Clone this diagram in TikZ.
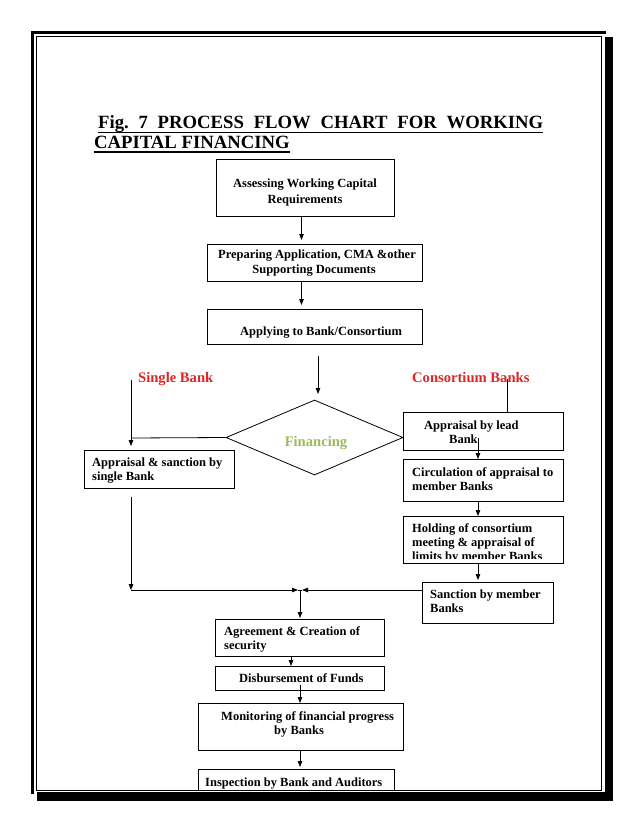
\documentclass[tikz,border=0pt]{standalone}
\usepackage{fontspec}
\setmainfont{Liberation Serif}
\usetikzlibrary{arrows.meta,shapes.geometric}
\definecolor{redlab}{RGB}{220,38,38}
\definecolor{fingreen}{RGB}{155,187,89}
\frenchspacing
\begin{document}
\begin{tikzpicture}[x=1pt,y=-1pt,
  box/.style={draw, line width=0.8pt, inner sep=0pt, anchor=north west},
  txt/.style={inner sep=0pt, anchor=base west, font=\fontsize{12.5}{14}\selectfont\bfseries},
  ttl/.style={inner sep=0pt, anchor=base west, font=\fontsize{18.7}{22}\selectfont\bfseries},
  lab/.style={inner sep=0pt, anchor=base west, text=redlab, font=\fontsize{14.6}{17}\selectfont\bfseries},
  arr/.style={line width=0.8pt, -{Triangle[length=6pt,width=4.5pt]}},
  conn/.style={line width=0.8pt}]
\useasboundingbox (0,0) rectangle (638,826);
% page frame
\fill (31,31) rectangle (606,34);
\fill (31,31) rectangle (34,794);
\draw[line width=0.8pt] (36.4,36.4) rectangle (601,790);
\fill (605,37) rectangle (613,801);
\fill (37,792) rectangle (613,801);
% title
\node[ttl] (t1) at (98,129) {\makebox[445pt][s]{Fig.\ 7 PROCESS FLOW CHART FOR WORKING}};
\node[ttl] (t2) at (94,148.5) {CAPITAL FINANCING};
\draw[line width=1.2pt] ([yshift=-3.5pt]t1.base west) -- ([yshift=-3.5pt]t1.base east);
\draw[line width=1.2pt] ([yshift=-3.5pt]t2.base west) -- ([yshift=-3.5pt]t2.base east);
% boxes
\node[box, minimum width=178pt, minimum height=57pt] (b1) at (216,159) {};
\node[box, minimum width=215pt, minimum height=37pt] (b2) at (207,244) {};
\node[box, minimum width=215pt, minimum height=35pt] (b3) at (207,309) {};
\node[draw, diamond, line width=0.8pt, inner sep=0pt, minimum width=177pt, minimum height=75pt] (fin) at (314.5,437.5) {};
\node[box, minimum width=150pt, minimum height=38pt] (bS) at (84,450) {};
\node[box, minimum width=160pt, minimum height=38pt] (bL) at (403,412) {};
\node[box, minimum width=160pt, minimum height=42pt] (bC) at (403,459) {};
\node[box, minimum width=160pt, minimum height=47pt] (bH) at (403,516) {};
\node[box, minimum width=131pt, minimum height=41pt] (bM) at (422,582) {};
\node[box, minimum width=169pt, minimum height=37pt] (bA) at (215,619) {};
\node[box, minimum width=169pt, minimum height=24pt] (bD) at (215,666) {};
\node[box, minimum width=205pt, minimum height=47pt] (bMo) at (198,703) {};
\node[box, minimum width=196pt, minimum height=21pt] (bI) at (198,769) {};
% texts
\node[txt, anchor=base] (x1a) at (305,188) {Assessing Working Capital};
\node[txt, anchor=base] (x1b) at (305,204) {Requirements};
\node[txt, anchor=base] (x2a) at (317,258) {Preparing Application, CMA \&other};
\node[txt, anchor=base] (x2b) at (314,273) {Supporting Documents};
\node[txt] (x3) at (240,335.5) {Applying to Bank/Consortium};
\node[lab] (ls) at (138,382) {Single Bank};
\node[lab] (lc) at (412,382) {Consortium Banks};
\node[lab, anchor=base, text=fingreen] (xf) at (316,446) {Financing};
\node[txt] (xSa) at (92,466) {Appraisal \& sanction by};
\node[txt] (xSb) at (92,480) {single Bank};
\node[txt] (xLa) at (424,429) {Appraisal by lead};
\node[txt] (xLb) at (449,443) {Bank};
\node[txt] (xCa) at (412,476) {Circulation of appraisal to};
\node[txt] (xCb) at (412,490) {member Banks};
\node[txt] (xHa) at (412,532) {Holding of consortium};
\node[txt] (xHb) at (412,546) {meeting \& appraisal of};
\begin{scope}
\clip (404,516) rectangle (562,558);
\node[txt] (xHc) at (412,560) {limits by member Banks};
\end{scope}
\node[txt] (xMa) at (430,598.5) {Sanction by member};
\node[txt] (xMb) at (430,612) {Banks};
\node[txt] (xAa) at (224,635) {Agreement \& Creation of};
\node[txt] (xAb) at (224,649) {security};
\node[txt] (xD) at (239,682.5) {Disbursement of Funds};
\node[txt] (xMoa) at (221,720) {Monitoring of financial progress};
\node[txt] (xMob) at (274,734) {by Banks};
\node[txt] (xI) at (205,786) {Inspection by Bank and Auditors};
% connectors
\coordinate (ax1) at (301.5,0);
\draw[arr, shorten >=4pt] (b1.south -| ax1) -- (b2.north -| ax1);
\draw[arr, shorten >=4pt] (b2.south -| ax1) -- (b3.north -| ax1);
\coordinate (a3s) at (318,356);
\coordinate (a3e) at (318,394);
\draw[arr] (a3s) -- (a3e);
\coordinate (sTop) at (131,380);
\coordinate (sCorner) at (131,438);
\draw[conn] (fin.west) -- (sCorner);
\draw[arr, shorten >=4pt] (sTop) -- (bS.north -| sTop);
\coordinate (cTop) at (507,379);
\draw[conn] (cTop) -- (bL.north -| cTop);
\coordinate (lcx) at (478,438);
\draw[arr] (lcx) -- (bC.north -| lcx);
\draw[arr] (bC.south -| lcx) -- (bH.north -| lcx);
\draw[arr, shorten >=2pt] (bH.south -| lcx) -- (bM.north -| lcx);
\coordinate (sBot) at (131,497);
\coordinate (jL) at (131,590);
\coordinate (jM) at (300,590);
\coordinate (jLa) at (298,590);
\coordinate (jRa) at (302,590);
\draw[arr] (sBot) -- (jL);
\draw[arr] (jL) -- (jLa);
\draw[arr] (bM.west |- jM) -- (jRa);
\draw[conn] (jLa) -- (jRa);
\draw[arr, shorten >=1pt] (jM) -- (bA.north -| jM);
\coordinate (ad) at (291,0);
\draw[arr] (bA.south -| ad) -- (bD.north -| ad);
\coordinate (dm) at (300,685);
\draw[arr] (dm) -- (bMo.north -| dm);
\draw[arr, shorten >=2pt] (bMo.south -| dm) -- (bI.north -| dm);
\end{tikzpicture}
\end{document}
